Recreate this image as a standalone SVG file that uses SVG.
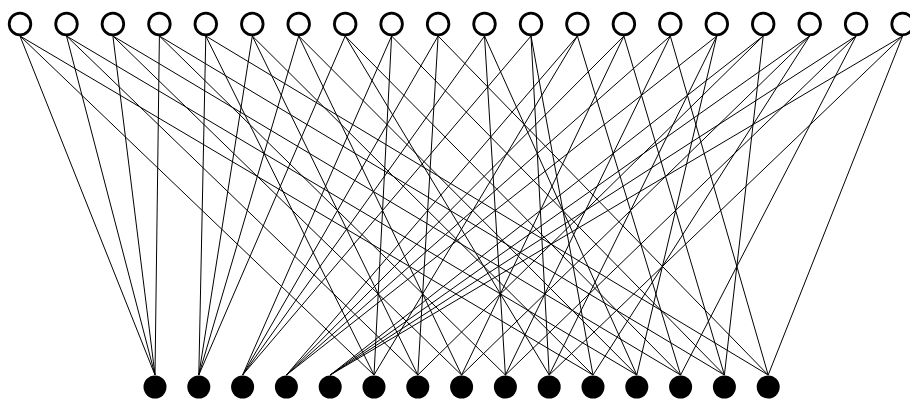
<svg xmlns="http://www.w3.org/2000/svg" width="910" height="402" viewBox="0 0 910 402">
<style>
.e line{stroke:#000;stroke-width:1;fill:none}
.v circle{fill:#fff;stroke:#000;stroke-width:2.8}
.c circle{fill:#000;stroke:none}
</style>
<rect width="910" height="402" fill="#fff"/>
<g id="connectors" class="e">
<line x1="20" y1="36" x2="155" y2="375"/><line x1="20" y1="36" x2="374" y2="375"/><line x1="20" y1="36" x2="593" y2="375"/>
<line x1="66.5" y1="36" x2="155" y2="375"/><line x1="66.5" y1="36" x2="417.8" y2="375"/><line x1="66.5" y1="36" x2="636.8" y2="375"/>
<line x1="112.9" y1="36" x2="155" y2="375"/><line x1="112.9" y1="36" x2="461.6" y2="375"/><line x1="112.9" y1="36" x2="680.6" y2="375"/>
<line x1="159.4" y1="36" x2="155" y2="375"/><line x1="159.4" y1="36" x2="505.4" y2="375"/><line x1="159.4" y1="36" x2="724.4" y2="375"/>
<line x1="205.8" y1="36" x2="198.8" y2="375"/><line x1="205.8" y1="36" x2="374" y2="375"/><line x1="205.8" y1="36" x2="768.2" y2="375"/>
<line x1="252.3" y1="36" x2="198.8" y2="375"/><line x1="252.3" y1="36" x2="417.8" y2="375"/><line x1="252.3" y1="36" x2="593" y2="375"/>
<line x1="298.7" y1="36" x2="198.8" y2="375"/><line x1="298.7" y1="36" x2="461.6" y2="375"/><line x1="298.7" y1="36" x2="636.8" y2="375"/>
<line x1="345.2" y1="36" x2="198.8" y2="375"/><line x1="345.2" y1="36" x2="549.2" y2="375"/><line x1="345.2" y1="36" x2="680.6" y2="375"/>
<line x1="391.6" y1="36" x2="242.6" y2="375"/><line x1="391.6" y1="36" x2="374" y2="375"/><line x1="391.6" y1="36" x2="724.4" y2="375"/>
<line x1="438.1" y1="36" x2="242.6" y2="375"/><line x1="438.1" y1="36" x2="417.8" y2="375"/><line x1="438.1" y1="36" x2="768.2" y2="375"/>
<line x1="484.5" y1="36" x2="242.6" y2="375"/><line x1="484.5" y1="36" x2="505.4" y2="375"/><line x1="484.5" y1="36" x2="636.8" y2="375"/>
<line x1="531" y1="36" x2="242.6" y2="375"/><line x1="531" y1="36" x2="549.2" y2="375"/><line x1="531" y1="36" x2="593" y2="375"/>
<line x1="577.4" y1="36" x2="286.4" y2="375"/><line x1="577.4" y1="36" x2="374" y2="375"/><line x1="577.4" y1="36" x2="680.6" y2="375"/>
<line x1="623.9" y1="36" x2="286.4" y2="375"/><line x1="623.9" y1="36" x2="461.6" y2="375"/><line x1="623.9" y1="36" x2="724.4" y2="375"/>
<line x1="670.3" y1="36" x2="286.4" y2="375"/><line x1="670.3" y1="36" x2="505.4" y2="375"/><line x1="670.3" y1="36" x2="768.2" y2="375"/>
<line x1="716.8" y1="36" x2="286.4" y2="375"/><line x1="716.8" y1="36" x2="549.2" y2="375"/><line x1="716.8" y1="36" x2="636.8" y2="375"/>
<line x1="763.2" y1="36" x2="330.2" y2="375"/><line x1="763.2" y1="36" x2="417.8" y2="375"/><line x1="763.2" y1="36" x2="724.4" y2="375"/>
<line x1="809.7" y1="36" x2="330.2" y2="375"/><line x1="809.7" y1="36" x2="461.6" y2="375"/><line x1="809.7" y1="36" x2="593" y2="375"/>
<line x1="856.1" y1="36" x2="330.2" y2="375"/><line x1="856.1" y1="36" x2="505.4" y2="375"/><line x1="856.1" y1="36" x2="680.6" y2="375"/>
<line x1="902.6" y1="36" x2="330.2" y2="375"/><line x1="902.6" y1="36" x2="549.2" y2="375"/><line x1="902.6" y1="36" x2="768.2" y2="375"/>
</g>
<g class="v">
<g id="v0"><circle cx="20" cy="24" r="10.8"/></g>
<g id="v1"><circle cx="66.5" cy="24" r="10.8"/></g>
<g id="v2"><circle cx="112.9" cy="24" r="10.8"/></g>
<g id="v3"><circle cx="159.4" cy="24" r="10.8"/></g>
<g id="v4"><circle cx="205.8" cy="24" r="10.8"/></g>
<g id="v5"><circle cx="252.3" cy="24" r="10.8"/></g>
<g id="v6"><circle cx="298.7" cy="24" r="10.8"/></g>
<g id="v7"><circle cx="345.2" cy="24" r="10.8"/></g>
<g id="v8"><circle cx="391.6" cy="24" r="10.8"/></g>
<g id="v9"><circle cx="438.1" cy="24" r="10.8"/></g>
<g id="v10"><circle cx="484.5" cy="24" r="10.8"/></g>
<g id="v11"><circle cx="531" cy="24" r="10.8"/></g>
<g id="v12"><circle cx="577.4" cy="24" r="10.8"/></g>
<g id="v13"><circle cx="623.9" cy="24" r="10.8"/></g>
<g id="v14"><circle cx="670.3" cy="24" r="10.8"/></g>
<g id="v15"><circle cx="716.8" cy="24" r="10.8"/></g>
<g id="v16"><circle cx="763.2" cy="24" r="10.8"/></g>
<g id="v17"><circle cx="809.7" cy="24" r="10.8"/></g>
<g id="v18"><circle cx="856.1" cy="24" r="10.8"/></g>
<g id="v19"><circle cx="902.6" cy="24" r="10.8"/></g>
</g>
<g class="c">
<g id="c0"><circle cx="155" cy="387" r="11.5"/></g>
<g id="c1"><circle cx="198.8" cy="387" r="11.5"/></g>
<g id="c2"><circle cx="242.6" cy="387" r="11.5"/></g>
<g id="c3"><circle cx="286.4" cy="387" r="11.5"/></g>
<g id="c4"><circle cx="330.2" cy="387" r="11.5"/></g>
<g id="c5"><circle cx="374" cy="387" r="11.5"/></g>
<g id="c6"><circle cx="417.8" cy="387" r="11.5"/></g>
<g id="c7"><circle cx="461.6" cy="387" r="11.5"/></g>
<g id="c8"><circle cx="505.4" cy="387" r="11.5"/></g>
<g id="c9"><circle cx="549.2" cy="387" r="11.5"/></g>
<g id="c10"><circle cx="593" cy="387" r="11.5"/></g>
<g id="c11"><circle cx="636.8" cy="387" r="11.5"/></g>
<g id="c12"><circle cx="680.6" cy="387" r="11.5"/></g>
<g id="c13"><circle cx="724.4" cy="387" r="11.5"/></g>
<g id="c14"><circle cx="768.2" cy="387" r="11.5"/></g>
</g>
</svg>
